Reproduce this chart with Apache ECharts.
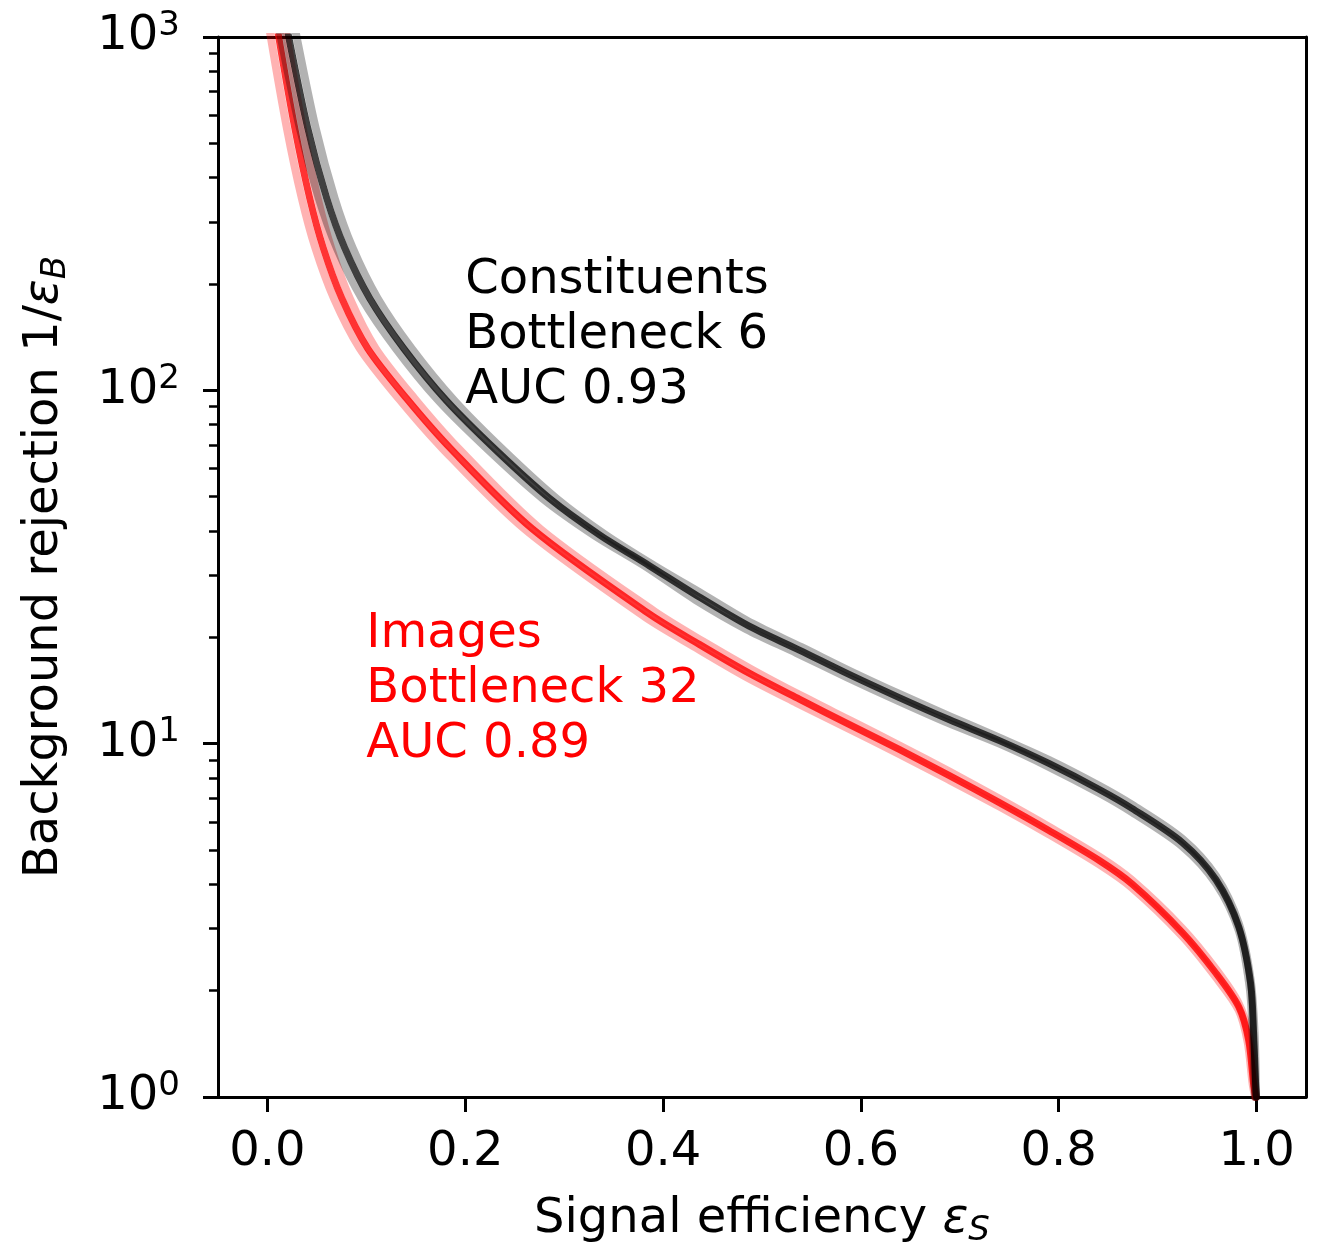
<!DOCTYPE html>
<html>
<head>
<meta charset="utf-8">
<script src="https://cdn.jsdelivr.net/npm/echarts@6/dist/echarts.min.js"></script>
<style>
html,body{margin:0;padding:0;background:#fff;}
#chart{width:1317px;height:1244px;}
</style>
</head>
<body>
<div id="chart"></div>
<script>
// ---- data ----
const xTicks = [0.0, 0.2, 0.4, 0.6, 0.8, 1.0];
const yMajorTicks = [1, 10, 100, 1000];
const yMinorTicks = [2,3,4,5,6,7,8,9,20,30,40,50,60,70,80,90,200,300,400,500,600,700,800,900];

// Constituents (black) – centre and envelope of the bundle of curves, [signal eff, 1/eps_B]
const blackMid = [[0.0145,1294],[0.0215,1000],[0.0407,553],[0.0599,350],[0.0781,253],[0.1033,182.3],[0.1377,131.5],[0.181,93.5],[0.2316,67.5],[0.2853,49.4],[0.3357,39.0],[0.386,31.9],[0.4366,26.0],[0.487,21.5],[0.5377,18.4],[0.588,15.7],[0.6387,13.5],[0.689,11.7],[0.740,10.2],[0.790,8.79],[0.841,7.42],[0.874,6.56],[0.925,5.25],[0.959,4.12],[0.982,3.03],[0.994,2.10],[0.997,1.52],[0.999,1.1],[1.0,1.0]];
const blackHi = [[0.0225,1294],[0.0295,1000],[0.0487,553],[0.0679,350],[0.0861,253],[0.1113,182.3],[0.1457,131.5],[0.189,93.5],[0.2391,67.5],[0.2923,49.4],[0.3417,39.0],[0.391,31.9],[0.440,26.5],[0.490,21.9],[0.540,18.75],[0.590,16.0],[0.640,13.78],[0.690,11.95],[0.740,10.4],[0.790,9.0],[0.841,7.6],[0.874,6.72],[0.925,5.38],[0.959,4.22],[0.982,3.1],[0.994,2.15],[0.998,1.52],[0.9995,1.0]];
const blackLo = [[0.0065,1294],[0.0135,1000],[0.0327,553],[0.0519,350],[0.0701,253],[0.0953,182.3],[0.1297,131.5],[0.173,93.5],[0.2241,67.5],[0.2783,49.4],[0.3297,39.0],[0.381,31.9],[0.433,25.5],[0.484,21.1],[0.535,18.05],[0.586,15.4],[0.637,13.24],[0.688,11.45],[0.740,10.0],[0.790,8.6],[0.841,7.25],[0.874,6.4],[0.925,5.12],[0.959,4.02],[0.982,2.96],[0.993,2.05],[0.996,1.52],[0.9985,1.0]];

// Images (red)
const redMid = [[0.0054,1294],[0.0114,1000],[0.0276,553],[0.0427,350],[0.0564,253],[0.0751,182.3],[0.1013,131.5],[0.1407,94.8],[0.1852,68.4],[0.268,40.5],[0.386,23.3],[0.4366,19.1],[0.487,15.83],[0.5377,13.36],[0.588,11.34],[0.6387,9.63],[0.689,8.13],[0.740,6.81],[0.790,5.68],[0.841,4.67],[0.874,4.01],[0.925,2.92],[0.959,2.24],[0.982,1.80],[0.992,1.45],[0.997,1.09],[0.999,1.0]];
const redHi = [[0.0134,1294],[0.0194,1000],[0.0356,553],[0.0507,350],[0.0644,253],[0.0831,182.3],[0.1093,131.5],[0.1487,94.8],[0.1932,68.4],[0.276,40.5],[0.391,23.7],[0.440,19.5],[0.490,16.2],[0.540,13.65],[0.590,11.6],[0.640,9.85],[0.690,8.32],[0.740,6.98],[0.790,5.82],[0.841,4.79],[0.874,4.11],[0.925,3.0],[0.959,2.3],[0.982,1.84],[0.993,1.47],[0.998,1.09],[0.9995,1.0]];
const redLo = [[-0.0026,1294],[0.0034,1000],[0.0196,553],[0.0347,350],[0.0484,253],[0.0671,182.3],[0.0933,131.5],[0.1327,94.8],[0.1772,68.4],[0.260,40.5],[0.381,22.9],[0.433,18.7],[0.484,15.45],[0.535,13.05],[0.586,11.08],[0.637,9.4],[0.688,7.93],[0.740,6.64],[0.790,5.54],[0.841,4.55],[0.874,3.91],[0.925,2.85],[0.959,2.18],[0.982,1.76],[0.991,1.43],[0.996,1.09],[0.9985,1.0]];

const blackText = 'Constituents\nBottleneck 6\nAUC 0.93';
const redText = 'Images\nBottleneck 32\nAUC 0.89';
const blackTextAnchor = [0.2, 245];
const redTextAnchor = [0.1, 24.3];

// ---- chart ----
const FONT = '"DejaVu Sans", "Liberation Sans", sans-serif';
const chart = echarts.init(document.getElementById('chart'), null, {renderer: 'canvas'});

function line(data, color, opacity, width) {
  return {
    type: 'line', data: data, xAxisIndex: 0, yAxisIndex: 0,
    showSymbol: false, symbol: 'none', smooth: 0.3, clip: true,
    lineStyle: {color: color, opacity: opacity, width: width, cap: 'round', join: 'round'},
    silent: true, animation: false, z: 2
  };
}

const axisLineStyle = {color: '#000', width: 3};

const option = {
  animation: false,
  backgroundColor: '#fff',
  grid: {left: 218, right: 11, top: 37, bottom: 147, containLabel: false, outerBoundsMode: 'none'},
  xAxis: [
    {
      type: 'value', min: -0.05, max: 1.05, position: 'bottom',
      name: '{n|Signal efficiency }{e|ε}{s|S}',
      nameLocation: 'middle', nameGap: 95,
      nameTextStyle: {
        fontFamily: FONT, color: '#000',
        rich: {
          n: {fontFamily: FONT, fontSize: 48, lineHeight: 56, color: '#000'},
          e: {fontFamily: FONT, fontSize: 48, lineHeight: 56, fontStyle: 'italic', color: '#000'},
          s: {fontFamily: FONT, fontSize: 34, lineHeight: 34, fontStyle: 'italic', verticalAlign: 'bottom', color: '#000'}
        }
      },
      axisLine: {show: true, onZero: false, lineStyle: axisLineStyle},
      axisTick: {show: true, length: 15, lineStyle: {color: '#000', width: 3}, customValues: xTicks},
      axisLabel: {show: true, customValues: xTicks, margin: 28, fontFamily: FONT, fontSize: 48, lineHeight: 56, color: '#000',
        formatter: v => Number(v).toFixed(1)},
      splitLine: {show: false}
    },
    {
      type: 'value', min: -0.05, max: 1.05, position: 'top',
      axisLine: {show: true, onZero: false, lineStyle: axisLineStyle},
      axisTick: {show: false}, axisLabel: {show: false}, splitLine: {show: false}
    }
  ],
  yAxis: [
    {
      type: 'log', logBase: 10, min: 1, max: 1000, position: 'left', splitNumber: 3,
      name: '{n|Background rejection 1/}{e|ε}{s|B}',
      nameLocation: 'middle', nameGap: 145, nameRotate: 90,
      nameTextStyle: {
        fontFamily: FONT, color: '#000',
        rich: {
          n: {fontFamily: FONT, fontSize: 48, lineHeight: 56, color: '#000'},
          e: {fontFamily: FONT, fontSize: 48, lineHeight: 56, fontStyle: 'italic', color: '#000'},
          s: {fontFamily: FONT, fontSize: 34, lineHeight: 34, fontStyle: 'italic', verticalAlign: 'bottom', color: '#000'}
        }
      },
      axisLine: {show: true, onZero: false, lineStyle: axisLineStyle},
      axisTick: {show: true, length: 15, lineStyle: {color: '#000', width: 3}},
      axisLabel: {
        show: true, margin: 38, fontFamily: FONT, color: '#000',
        formatter: v => '{b|10}{s|' + Math.round(Math.log10(v)) + '}',
        rich: {
          b: {fontFamily: FONT, fontSize: 48, lineHeight: 56, color: '#000'},
          s: {fontFamily: FONT, fontSize: 34, lineHeight: 30, verticalAlign: 'top', color: '#000'}
        }
      },
      splitLine: {show: false}, minorTick: {show: false}
    },
    {
      // minor ticks of the log axis (placed in log10 space)
      type: 'value', min: 0, max: 3, position: 'left',
      axisLine: {show: false, onZero: false},
      axisTick: {show: true, length: 9, lineStyle: {color: '#000', width: 2.5},
        customValues: yMinorTicks.map(v => Math.log10(v))},
      axisLabel: {show: false}, splitLine: {show: false}
    },
    {
      type: 'log', logBase: 10, min: 1, max: 1000, position: 'right',
      axisLine: {show: true, onZero: false, lineStyle: axisLineStyle},
      axisTick: {show: false}, axisLabel: {show: false}, splitLine: {show: false}
    }
  ],
  series: [
    line(redLo, '#ff0000', 0.3, 8),
    line(redHi, '#ff0000', 0.3, 8),
    line(redMid, '#ff0000', 0.8, 7),
    line(blackLo, '#000000', 0.3, 8),
    line(blackHi, '#000000', 0.3, 8),
    line(blackMid, '#000000', 0.75, 7)
  ]
};
chart.setOption(option);

const p1 = chart.convertToPixel({xAxisIndex: 0, yAxisIndex: 0}, blackTextAnchor);
const p2 = chart.convertToPixel({xAxisIndex: 0, yAxisIndex: 0}, redTextAnchor);
chart.setOption({
  graphic: [
    {type: 'text', x: p1[0], y: p1[1], z: 10, silent: true,
      style: {text: blackText, fontFamily: FONT, fontSize: 48, lineHeight: 55, fill: '#000', align: 'left', verticalAlign: 'top'}},
    {type: 'text', x: p2[0], y: p2[1], z: 10, silent: true,
      style: {text: redText, fontFamily: FONT, fontSize: 48, lineHeight: 55, fill: '#ff0000', align: 'left', verticalAlign: 'top'}}
  ]
});
</script>
</body>
</html>
